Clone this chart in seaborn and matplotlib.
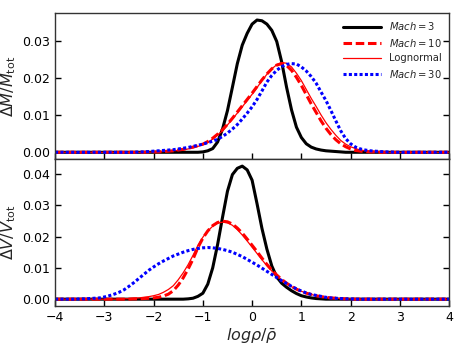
import numpy as np
import pandas as pd
import matplotlib
matplotlib.use("Agg")
import matplotlib.pyplot as plt
import seaborn as sns

# x grid: log(rho/rho_bar), -4.0 .. 4.0 in steps of 0.1
log_rho = np.round(np.linspace(-4.0, 4.0, 81), 1)

# ── mass-weighted distributions (top panel) ──────────────
dm_mach3 = [0, 0, 0, 0, 0, 0, 0, 0, 0, 0,
            0, 0, 0, 0, 0, 0, 0, 0, 0, 0,
            0, 0, 0, 0, 0, 0, 0, 0, 0, 0,
            0.0001, 0.0004, 0.0010, 0.0028, 0.0063, 0.0113, 0.0176, 0.0240, 0.0290, 0.0322,
            0.0347, 0.0358, 0.0356, 0.0347, 0.0330, 0.0300, 0.0245, 0.0176, 0.0115, 0.0068,
            0.0040, 0.0023, 0.0014, 0.0009, 0.0006, 0.0004, 0.0003, 0.0002, 0.0001, 0,
            0, 0, 0, 0, 0, 0, 0, 0, 0, 0,
            0, 0, 0, 0, 0, 0, 0, 0, 0, 0,
            0]
dm_mach10 = [0, 0, 0, 0, 0, 0, 0, 0, 0, 0,
             0, 0, 0, 0, 0, 0, 0, 0, 0, 0.0001,
             0.0001, 0.0001, 0.0002, 0.0003, 0.0004, 0.0006, 0.0008, 0.0011, 0.0014, 0.0018,
             0.0022, 0.0029, 0.0038, 0.0049, 0.0061, 0.0076, 0.0092, 0.0109, 0.0126, 0.0143,
             0.0160, 0.0178, 0.0196, 0.0212, 0.0226, 0.0236, 0.0240, 0.0235, 0.0222, 0.0203,
             0.0181, 0.0156, 0.0131, 0.0108, 0.0085, 0.0065, 0.0048, 0.0034, 0.0023, 0.0015,
             0.0009, 0.0005, 0.0003, 0.0002, 0.0001, 0.0001, 0, 0, 0, 0,
             0, 0, 0, 0, 0, 0, 0, 0, 0, 0,
             0]
dm_logn = [0, 0, 0, 0, 0, 0, 0, 0, 0, 0,
           0, 0, 0, 0, 0, 0, 0, 0, 0, 0,
           0.0001, 0.0001, 0.0002, 0.0003, 0.0004, 0.0005, 0.0006, 0.0009, 0.0012, 0.0016,
           0.0020, 0.0026, 0.0036, 0.0047, 0.0058, 0.0074, 0.0090, 0.0106, 0.0123, 0.0140,
           0.0157, 0.0175, 0.0194, 0.0211, 0.0226, 0.0237, 0.0243, 0.0241, 0.0231, 0.0214,
           0.0194, 0.0170, 0.0146, 0.0124, 0.0101, 0.0080, 0.0062, 0.0046, 0.0032, 0.0022,
           0.0015, 0.0010, 0.0006, 0.0004, 0.0003, 0.0002, 0.0001, 0.0001, 0, 0,
           0, 0, 0, 0, 0, 0, 0, 0, 0, 0,
           0]
dm_mach30 = [0, 0, 0, 0, 0, 0, 0, 0, 0, 0,
             0, 0, 0, 0, 0, 0, 0, 0.0001, 0.0001, 0.0002,
             0.0003, 0.0004, 0.0005, 0.0006, 0.0007, 0.0009, 0.0011, 0.0013, 0.0016, 0.0019,
             0.0022, 0.0026, 0.0030, 0.0035, 0.0043, 0.0052, 0.0063, 0.0075, 0.0090, 0.0106,
             0.0123, 0.0143, 0.0166, 0.0190, 0.0208, 0.0222, 0.0232, 0.0238, 0.0240, 0.0239,
             0.0231, 0.0220, 0.0205, 0.0187, 0.0163, 0.0140, 0.0113, 0.0085, 0.0058, 0.0037,
             0.0023, 0.0014, 0.0009, 0.0006, 0.0004, 0.0003, 0.0002, 0.0001, 0.0001, 0,
             0, 0, 0, 0, 0, 0, 0, 0, 0, 0,
             0]

# ── volume-weighted distributions (bottom panel) ─────────
dv_mach3 = [0, 0, 0, 0, 0, 0, 0, 0, 0, 0,
            0, 0, 0, 0, 0, 0, 0, 0, 0, 0,
            0, 0, 0, 0, 0, 0, 0, 0.0001, 0.0003, 0.0009,
            0.0019, 0.0048, 0.0100, 0.0175, 0.0262, 0.0345, 0.0398, 0.0418, 0.0425, 0.0413,
            0.0380, 0.0305, 0.0226, 0.0160, 0.0106, 0.0071, 0.0051, 0.0038, 0.0027, 0.0018,
            0.0011, 0.0007, 0.0004, 0.0002, 0.0001, 0, 0, 0, 0, 0,
            0, 0, 0, 0, 0, 0, 0, 0, 0, 0,
            0, 0, 0, 0, 0, 0, 0, 0, 0, 0,
            0]
dv_mach10 = [0, 0, 0, 0, 0, 0, 0, 0, 0, 0,
             0, 0, 0, 0, 0, 0, 0.0001, 0.0001, 0.0002, 0.0003,
             0.0004, 0.0006, 0.0010, 0.0016, 0.0027, 0.0045, 0.0068, 0.0096, 0.0128, 0.0165,
             0.0195, 0.0218, 0.0235, 0.0245, 0.0249, 0.0247, 0.0240, 0.0227, 0.0211, 0.0192,
             0.0172, 0.0152, 0.0131, 0.0111, 0.0093, 0.0077, 0.0063, 0.0051, 0.0041, 0.0032,
             0.0025, 0.0019, 0.0015, 0.0011, 0.0008, 0.0006, 0.0004, 0.0003, 0.0002, 0.0001,
             0.0001, 0, 0, 0, 0, 0, 0, 0, 0, 0,
             0, 0, 0, 0, 0, 0, 0, 0, 0, 0,
             0]
dv_logn = [0, 0, 0, 0, 0, 0, 0, 0, 0, 0,
           0, 0, 0, 0, 0.0001, 0.0002, 0.0003, 0.0004, 0.0006, 0.0008,
           0.0011, 0.0015, 0.0022, 0.0031, 0.0043, 0.0062, 0.0084, 0.0110, 0.0140, 0.0172,
           0.0198, 0.0218, 0.0233, 0.0243, 0.0246, 0.0244, 0.0236, 0.0222, 0.0205, 0.0186,
           0.0166, 0.0146, 0.0126, 0.0107, 0.0090, 0.0075, 0.0062, 0.0050, 0.0040, 0.0032,
           0.0025, 0.0020, 0.0015, 0.0011, 0.0008, 0.0006, 0.0004, 0.0003, 0.0002, 0.0001,
           0.0001, 0, 0, 0, 0, 0, 0, 0, 0, 0,
           0, 0, 0, 0, 0, 0, 0, 0, 0, 0,
           0]
dv_mach30 = [0, 0, 0, 0, 0, 0.0001, 0.0001, 0.0002, 0.0003, 0.0004,
             0.0007, 0.0011, 0.0016, 0.0022, 0.0030, 0.0041, 0.0053, 0.0066, 0.0079, 0.0092,
             0.0103, 0.0113, 0.0122, 0.0130, 0.0138, 0.0144, 0.0150, 0.0155, 0.0159, 0.0162,
             0.0164, 0.0165, 0.0164, 0.0162, 0.0159, 0.0155, 0.0150, 0.0143, 0.0136, 0.0127,
             0.0118, 0.0109, 0.0099, 0.0089, 0.0079, 0.0069, 0.0059, 0.0050, 0.0041, 0.0033,
             0.0026, 0.0020, 0.0015, 0.0012, 0.0009, 0.0006, 0.0004, 0.0003, 0.0002, 0.0001,
             0.0001, 0, 0, 0, 0, 0, 0, 0, 0, 0,
             0, 0, 0, 0, 0, 0, 0, 0, 0, 0,
             0]

labels = ["$Mach=3$", "$Mach=10$", "Lognormal", "$Mach=30$"]
top_series = [dm_mach3, dm_mach10, dm_logn, dm_mach30]
bot_series = [dv_mach3, dv_mach10, dv_logn, dv_mach30]

styles = [
    dict(color="black", lw=2.2, linestyle="-"),
    dict(color="red", lw=2.2, linestyle=(0, (2.8, 1.2))),
    dict(color="red", lw=0.9, linestyle="-"),
    dict(color="blue", lw=2.2, linestyle=(0, (1.0, 0.75))),
]

sns.set_style("ticks")
plt.rcParams["font.family"] = ["DejaVu Sans"]
plt.rcParams["mathtext.fontset"] = "dejavusans"

fig = plt.figure(figsize=(4.63, 3.47), dpi=100)
ax1 = fig.add_axes([0.119, 0.542, 0.851, 0.4205])
ax2 = fig.add_axes([0.119, 0.118, 0.851, 0.424], sharex=ax1)

for ax, series in [(ax1, top_series), (ax2, bot_series)]:
    for lab, ys, st in zip(labels, series, styles):
        df = pd.DataFrame({"x": log_rho, "y": ys})
        sns.lineplot(data=df, x="x", y="y", ax=ax, label=lab,
                     dash_capstyle="butt", **st)

ax1.set_xlim(-4, 4)
ax1.set_ylim(-0.0018, 0.0377)
ax2.set_ylim(-0.0022, 0.0448)
ax1.set_yticks([0, 0.01, 0.02, 0.03])
ax2.set_yticks([0, 0.01, 0.02, 0.03, 0.04])
ax2.set_xticks(range(-4, 5))

for ax in (ax1, ax2):
    ax.yaxis.set_major_formatter(matplotlib.ticker.FormatStrFormatter("%.2f"))
    ax.tick_params(direction="in", length=4, width=1, labelsize=9,
                   right=True, top=False, colors="black")
    for sp in ax.spines.values():
        sp.set_color("#333333")
        sp.set_linewidth(1.0)

ax1.tick_params(labelbottom=False)
ax1.set_xlabel("")
ax1.set_ylabel(r"$\Delta M/M_{\rm tot}$", fontsize=11.5)
ax2.set_ylabel(r"$\Delta V/V_{\rm tot}$", fontsize=11.5)
ax2.set_xlabel(r"$log\rho/\bar{\rho}$", fontsize=11.5, labelpad=2)
ax1.yaxis.set_label_coords(-0.095, 0.5)
ax2.yaxis.set_label_coords(-0.095, 0.5)

ax1.legend(loc="upper right", frameon=False, fontsize=7.2,
           handlelength=3.8, labelspacing=0.45, borderaxespad=0.3)
ax2.get_legend().remove()

fig.savefig("out.png", dpi=100)
